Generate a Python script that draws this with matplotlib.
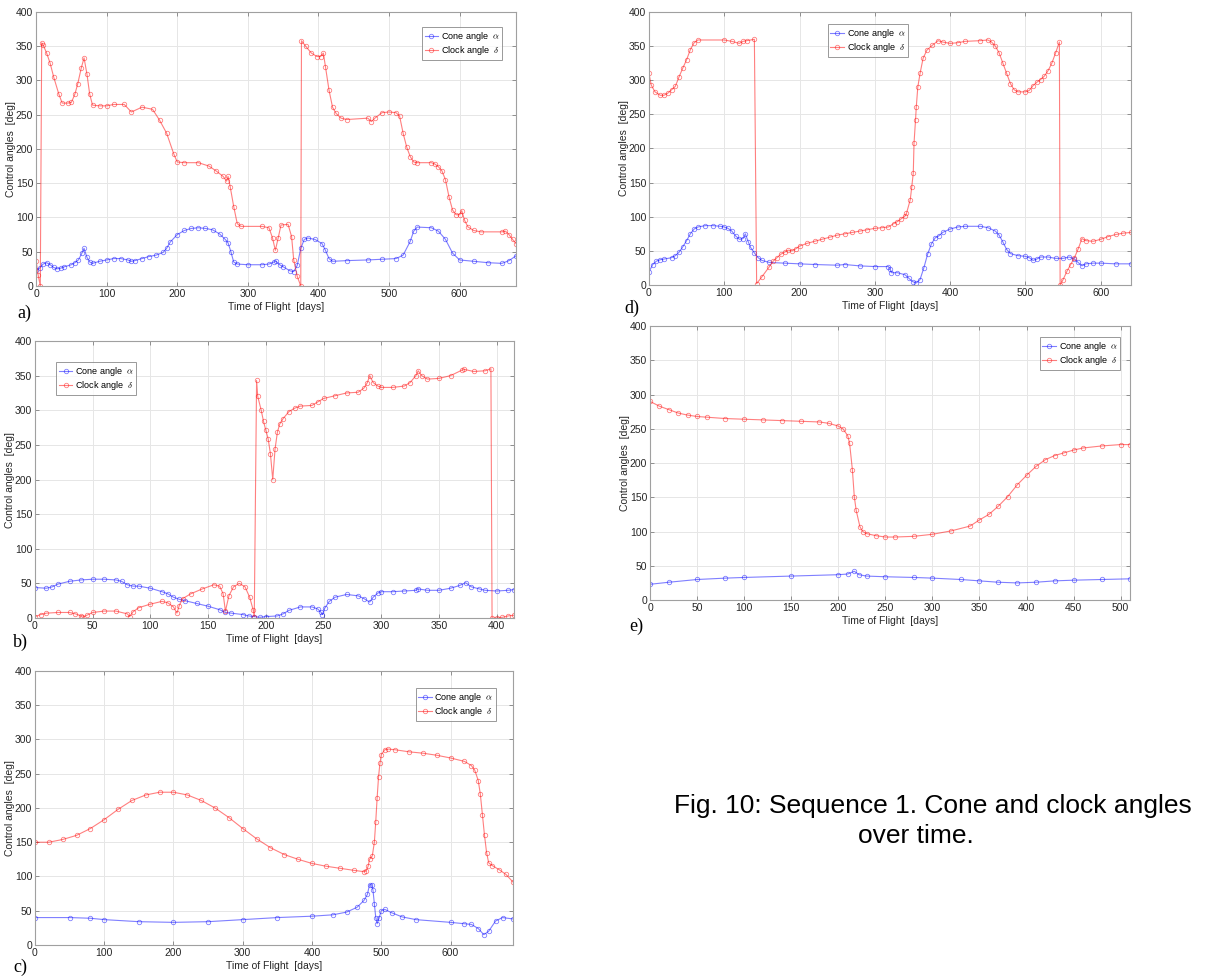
import matplotlib
matplotlib.use("Agg")
import matplotlib.pyplot as plt

plt.rcParams['font.family'] = ['Liberation Sans', 'DejaVu Sans']
plt.rcParams['mathtext.fontset'] = 'cm'

# ---- a) ----
a_t_cone = [0, 5, 10, 15, 20, 25, 30, 35, 40, 50, 55, 60, 65, 68, 72, 76, 80, 90, 100, 110, 120, 130, 135,
            140, 150, 160, 170, 180, 185, 190, 200, 210, 220, 230, 240, 250, 260, 268, 272, 276, 280, 285,
            300, 320, 330, 337, 340, 345, 350, 360, 365, 370, 375, 380, 385, 395, 405, 410, 415, 420, 440,
            470, 490, 510, 520, 530, 535, 540, 560, 570, 580, 590, 600, 620, 640, 660, 670, 680]
a_cone = [23, 26, 32, 34, 31, 27, 25, 26, 28, 31, 34, 38, 48, 55, 42, 35, 33, 36, 38, 40, 40, 38, 36,
          37, 40, 43, 45, 49, 55, 64, 75, 81, 84, 85, 84, 82, 76, 68, 63, 50, 35, 32,
          31, 31, 32, 35, 36, 31, 28, 22, 21, 30, 55, 68, 70, 68, 62, 52, 40, 36, 37,
          38, 39, 40, 45, 65, 80, 86, 85, 80, 68, 48, 38, 36, 34, 33, 37, 44]
a_t_clock = [0, 3, 6, 8, 10, 15, 20, 25, 32, 37, 45, 50, 55, 59, 64, 68, 72, 76, 80, 90, 100, 110, 125,
             135, 150, 165, 175, 185, 195, 200, 210, 230, 245, 255, 265, 270, 272, 275, 280, 285, 290,
             320, 330, 335, 339, 343, 347, 357, 362, 365, 370, 375, 376, 382, 390, 398, 403, 407, 410,
             415, 420, 425, 432, 440, 470, 475, 480, 490, 500, 510, 515, 520, 525, 530, 535, 540, 560,
             565, 570, 575, 580, 585, 590, 595, 600, 603, 607, 612, 620, 630, 660, 665, 670, 675, 680]
a_clock = [37, 16, 0, 355, 352, 340, 325, 305, 281, 267, 267, 268, 280, 295, 318, 333, 310, 280, 264, 263, 263, 265, 265,
           254, 261, 258, 242, 223, 193, 181, 180, 180, 175, 168, 160, 153, 160, 145, 116, 91, 87,
           87, 85, 70, 52, 70, 89, 90, 72, 38, 14, 0, 358, 350, 340, 335, 335, 340, 320,
           286, 261, 252, 245, 243, 245, 240, 245, 253, 254, 253, 248, 223, 203, 189, 181, 180, 180,
           178, 174, 168, 155, 130, 111, 104, 104, 110, 96, 86, 81, 79, 79, 80, 75, 68, 62]

# ---- b) ----
b_t_cone = [0, 10, 15, 20, 30, 40, 50, 60, 70, 75, 80, 85, 90, 100, 110, 115, 120, 125, 130, 140, 150, 160,
            165, 170, 180, 185, 190, 195, 200, 210, 215, 220, 230, 240, 245, 248, 249, 251, 255, 260, 270,
            280, 285, 290, 293, 297, 300, 310, 320, 330, 332, 340, 350, 360, 368, 373, 378, 385, 390, 400,
            410, 415]
b_cone = [44, 43, 45, 49, 53, 55, 56, 56, 55, 53, 48, 46, 46, 43, 38, 35, 30, 27, 25, 21, 17, 12,
          8, 7, 5, 3, 2, 1, 2, 3, 6, 11, 16, 16, 13, 8, 5, 14, 24, 30, 34,
          32, 28, 23, 30, 36, 38, 38, 39, 40, 42, 40, 40, 43, 47, 51, 45, 42, 40, 39,
          40, 41]
b_t_clock = [0, 5, 10, 20, 30, 35, 40, 41, 45, 50, 60, 70, 80, 82, 85, 90, 100, 110, 115, 120, 123, 125,
             128, 135, 145, 155, 160, 163, 165, 168, 172, 177, 182, 186, 189, 190, 192, 193, 196, 198, 200,
             202, 204, 206, 208, 210, 212, 215, 220, 225, 230, 240, 245, 250, 260, 270, 280, 285, 288, 290,
             293, 297, 300, 310, 320, 325, 330, 332, 335, 340, 350, 360, 370, 372, 380, 390, 395, 396, 400,
             405, 410, 415]
b_clock = [2, 5, 7, 8, 8, 6, 3, 1, 4, 8, 10, 10, 6, 2, 9, 15, 20, 24, 22, 16, 7, 18,
           28, 35, 42, 48, 46, 35, 10, 32, 45, 50, 45, 30, 12, 2, 343, 320, 300, 284, 271,
           259, 237, 200, 244, 268, 280, 288, 298, 303, 306, 307, 312, 317, 321, 325, 326, 332, 340, 350,
           340, 335, 333, 333, 335, 340, 350, 357, 350, 345, 346, 350, 358, 359, 356, 357, 360, 0, 0,
           1, 3, 4]

# ---- c) ----
c_t_cone = [0, 50, 80, 100, 150, 200, 250, 300, 350, 400, 430, 450, 465, 475, 480, 483, 486, 488, 490,
            492, 494, 497, 500, 505, 515, 530, 550, 600, 620, 630, 640, 648, 655, 665, 675, 690]
c_cone = [40, 40, 39, 37, 34, 33, 34, 37, 40, 42, 44, 48, 55, 65, 74, 88, 88, 80, 60,
          40, 31, 40, 50, 52, 47, 41, 37, 33, 31, 30, 24, 15, 20, 35, 40, 38]
c_t_clock = [0, 20, 40, 60, 80, 100, 120, 140, 160, 180, 200, 220, 240, 260, 280, 300, 320, 340, 360,
             380, 400, 420, 440, 460, 475, 478, 481, 483, 487, 490, 492, 494, 496, 498, 500, 505, 510,
             520, 540, 560, 580, 600, 620, 630, 635, 640, 643, 646, 649, 652, 655, 660, 670, 680, 690]
c_clock = [150, 150, 154, 160, 170, 183, 198, 211, 219, 223, 223, 219, 211, 200, 186, 170, 155, 142, 132,
           125, 119, 115, 112, 109, 107, 108, 115, 125, 130, 150, 180, 215, 245, 265, 278, 285, 286,
           285, 282, 280, 277, 273, 268, 262, 255, 240, 220, 190, 160, 135, 120, 116, 110, 103, 92]

# ---- d) ----
d_t_cone = [0, 5, 10, 15, 20, 30, 35, 40, 45, 50, 55, 60, 65, 75, 85, 95, 100, 105, 110, 115, 120, 125,
            128, 132, 135, 140, 145, 150, 160, 180, 200, 220, 250, 260, 280, 300, 318, 320, 322, 330, 340,
            345, 350, 355, 360, 365, 370, 375, 380, 385, 390, 400, 410, 420, 440, 450, 460, 465, 470, 475,
            480, 490, 500, 505, 510, 515, 520, 530, 540, 550, 558, 565, 570, 575, 580, 590, 600, 620, 640]
d_cone = [19, 30, 35, 37, 38, 40, 43, 48, 56, 65, 75, 82, 85, 87, 87, 86, 85, 83, 79, 72, 67, 68,
          75, 63, 55, 47, 40, 36, 33, 32, 31, 30, 29, 30, 28, 27, 27, 24, 18, 18, 15,
          10, 5, 3, 8, 25, 45, 60, 69, 72, 77, 82, 85, 86, 86, 84, 79, 73, 63, 52,
          46, 43, 42, 40, 36, 38, 41, 41, 39, 39, 41, 38, 33, 28, 31, 32, 32, 31, 31]
d_t_clock = [0, 3, 8, 15, 20, 25, 30, 35, 40, 45, 50, 55, 60, 65, 100, 110, 120, 125, 130, 140, 143,
             150, 160, 165, 170, 175, 180, 185, 190, 195, 200, 210, 220, 230, 240, 250, 260, 270, 280,
             290, 300, 310, 318, 325, 330, 335, 340, 342, 347, 349, 351, 352, 354, 355, 357, 360, 364,
             369, 376, 384, 390, 400, 410, 420, 440, 450, 455, 460, 465, 470, 475, 480, 485, 490, 500,
             505, 510, 515, 520, 525, 530, 535, 540, 545, 546, 550, 555, 560, 565, 570, 575, 580, 590,
             600, 610, 620, 630, 640]
d_clock = [310, 293, 283, 278, 278, 281, 286, 291, 305, 318, 330, 345, 355, 359, 359, 357, 354, 357, 358, 360, 2,
           12, 27, 35, 40, 45, 48, 51, 50, 53, 57, 61, 64, 67, 70, 73, 75, 77, 79,
           81, 83, 84, 85, 90, 93, 97, 101, 105, 125, 144, 164, 208, 242, 261, 290, 310, 332,
           344, 351, 358, 356, 354, 355, 357, 358, 359, 356, 350, 340, 325, 310, 295, 286, 283, 283,
           285, 292, 297, 301, 306, 314, 325, 340, 356, 0, 8, 20, 30, 40, 53, 68, 65, 64,
           67, 71, 74, 76, 77]

# ---- e) ----
e_t_cone = [0, 20, 50, 80, 100, 150, 200, 210, 217, 222, 230, 250, 280, 300, 330, 350, 370, 390, 410,
            430, 450, 480, 510]
e_cone = [23, 26, 30, 32, 33, 35, 37, 38, 42, 37, 35, 34, 33, 32, 30, 28, 26, 25, 26,
          28, 29, 30, 31]
e_t_clock = [0, 10, 20, 30, 40, 50, 60, 80, 100, 120, 140, 160, 180, 190, 200, 205, 210, 212, 215, 217,
             219, 223, 226, 230, 240, 250, 260, 280, 300, 320, 340, 350, 360, 370, 380, 390, 400, 410,
             420, 430, 440, 450, 460, 480, 500, 510]
e_clock = [290, 283, 278, 273, 270, 268, 267, 265, 264, 263, 262, 261, 260, 258, 254, 250, 240, 229, 190, 151,
           131, 107, 100, 97, 94, 92, 92, 93, 96, 101, 108, 117, 125, 137, 151, 168, 182, 195,
           205, 211, 215, 219, 222, 225, 227, 227]

panels = [
    # label, axes rect, xlim, xticks, data, legend loc anchor, label position
    ('a)', [0.0296, 0.7070, 0.3941, 0.2807], 680, range(0, 700, 100),
     (a_t_cone, a_cone, a_t_clock, a_clock), ('upper right', (0.971, 0.945)), (0.014, 0.674)),
    ('b)', [0.0287, 0.3668, 0.3933, 0.2838], 415, range(0, 450, 50),
     (b_t_cone, b_cone, b_t_clock, b_clock), ('upper left', (0.044, 0.924)), (0.011, 0.337)),
    ('c)', [0.0287, 0.0318, 0.3924, 0.2807], 690, range(0, 700, 100),
     (c_t_cone, c_cone, c_t_clock, c_clock), ('upper right', (0.964, 0.938)), (0.011, 0.004)),
    ('d)', [0.5328, 0.7080, 0.3957, 0.2797], 640, range(0, 700, 100),
     (d_t_cone, d_cone, d_t_clock, d_clock), ('upper left', (0.371, 0.956)), (0.513, 0.679)),
    ('e)', [0.5337, 0.3852, 0.3941, 0.2807], 510, range(0, 550, 50),
     (e_t_cone, e_cone, e_t_clock, e_clock), ('upper right', (0.979, 0.960)), (0.517, 0.354)),
]

fig = plt.figure(figsize=(12.18, 9.76), dpi=100)

for lab, rect, xmax, xt, (tc, cone, tk, clock), (lloc, lanchor), labpos in panels:
    ax = fig.add_axes(rect)
    ax.plot(tc, cone, color='#0000ff', lw=0.8, marker='o', ms=3.2, mfc='none', mew=0.6, alpha=0.5,
            label=r'Cone angle  $\alpha$')
    ax.plot(tk, clock, color='#ff0000', lw=0.8, marker='o', ms=3.2, mfc='none', mew=0.6, alpha=0.5,
            label=r'Clock angle  $\delta$')
    ax.set_xlim(0, xmax)
    ax.set_ylim(0, 400)
    ax.set_xticks(list(xt))
    ax.set_yticks(range(0, 450, 50))
    ax.grid(True, color='#e6e6e6', lw=0.7)
    ax.set_axisbelow(True)
    for s in ax.spines.values():
        s.set_color('#a0a0a0')
        s.set_linewidth(0.8)
    ax.tick_params(direction='in', length=3, width=0.6, color='#808080', labelsize=7.5,
                   labelcolor='#262626', top=True, right=True, pad=2)
    ax.set_xlabel('Time of Flight  [days]', fontsize=7.5, color='#262626', labelpad=2)
    ax.set_ylabel('Control angles  [deg]', fontsize=7.5, color='#262626', labelpad=0)
    leg = ax.legend(loc=lloc, bbox_to_anchor=lanchor, fontsize=6.5, frameon=True, fancybox=False,
                    handlelength=1.5, handletextpad=0.3, borderpad=0.3, labelspacing=0.15,
                    borderaxespad=0)
    leg.get_frame().set_edgecolor('#808080')
    leg.get_frame().set_linewidth(0.7)
    fig.text(labpos[0], labpos[1], lab, fontsize=13, family=['Liberation Serif', 'DejaVu Serif'])

# caption, two lines as in the paper
fig.text(0.766, 0.174, 'Fig. 10: Sequence 1. Cone and clock angles', ha='center', va='center', fontsize=19)
fig.text(0.752, 0.143, 'over time.', ha='center', va='center', fontsize=19)

fig.savefig('out.png', dpi=100)
